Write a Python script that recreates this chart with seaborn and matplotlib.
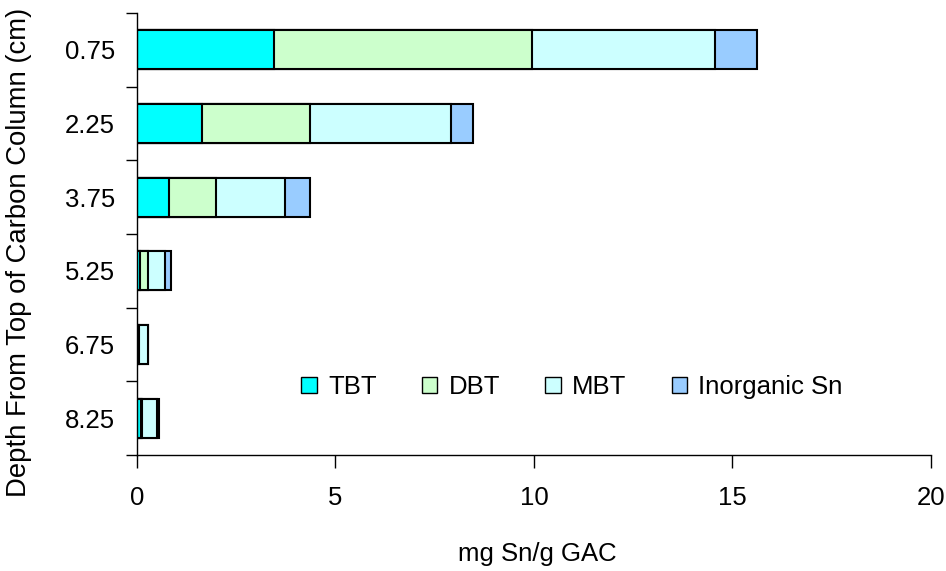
import numpy as np
import pandas as pd
import matplotlib
matplotlib.use("Agg")
import matplotlib.pyplot as plt
import seaborn as sns
from matplotlib.patches import Patch

depths = ["0.75", "2.25", "3.75", "5.25", "6.75", "8.25"]
species = ["TBT", "DBT", "MBT", "Inorganic Sn"]
tbt = [3.45, 1.63, 0.80, 0.07, 0.02, 0.10]
dbt = [6.50, 2.73, 1.20, 0.21, 0.03, 0.03]
mbt = [4.62, 3.55, 1.72, 0.42, 0.23, 0.38]
inorg = [1.05, 0.56, 0.65, 0.15, 0.01, 0.05]
colors = ["#00ffff", "#ccffcc", "#ccffff", "#99ccff"]

sns.set_style("white")
plt.rcParams["font.family"] = ["Liberation Sans", "DejaVu Sans"]
plt.rcParams.update({"text.color": "black", "axes.labelcolor": "black",
                     "xtick.color": "black", "ytick.color": "black"})
fs = 18.5

df = pd.DataFrame({"depth": depths, "TBT": tbt, "DBT": dbt, "MBT": mbt, "Inorganic Sn": inorg})
cum = df[species].cumsum(axis=1)

fig = plt.figure(figsize=(9.46, 5.71), dpi=100)
ax = fig.add_axes([0.1448, 0.2032, 0.8392, 0.7740])

# stacked bars: draw cumulative totals from outermost layer inward
for sp, col in reversed(list(zip(species, colors))):
    sns.barplot(x=cum[sp], y=df["depth"], order=depths, orient="h", color=col,
                edgecolor="black", linewidth=1.5, width=0.53, saturation=1, ax=ax)

ax.set_xlim(0, 20)
ax.set_ylim(len(depths) - 0.5, -0.5)
ax.set_xticks([0, 5, 10, 15, 20])
ax.set_xticklabels(["0", "5", "10", "15", "20"], fontsize=fs)
ax.set_yticks(range(len(depths)))
ax.set_yticklabels(depths, fontsize=fs)
ax.set_yticks(np.arange(-0.5, len(depths), 1), minor=True)
ax.tick_params(axis="y", which="major", length=0, pad=16)
ax.tick_params(axis="y", which="minor", length=8, width=1, direction="out", left=True)
ax.tick_params(axis="x", which="major", length=9, width=1, direction="out", bottom=True, pad=13)

for s in ["top", "right"]:
    ax.spines[s].set_visible(False)
for s in ["left", "bottom"]:
    ax.spines[s].set_color("black")
    ax.spines[s].set_linewidth(1)

ax.set_xlabel("mg Sn/g GAC", fontsize=fs)
ax.xaxis.set_label_coords(0.504, -0.197)
ax.set_ylabel("Depth From Top of Carbon Column (cm)", fontsize=19.8)
ax.yaxis.set_label_coords(-0.132, 0.458)

handles = [Patch(facecolor=c, edgecolor="black", linewidth=1, label=s) for s, c in zip(species, colors)]
ax.legend(handles=handles, loc="center", bbox_to_anchor=(0.548, 0.154), ncol=4, frameon=False,
          fontsize=fs, handlelength=0.6, handleheight=0.6, handletextpad=0.45, columnspacing=1.75)

fig.savefig("out.png", dpi=100)
